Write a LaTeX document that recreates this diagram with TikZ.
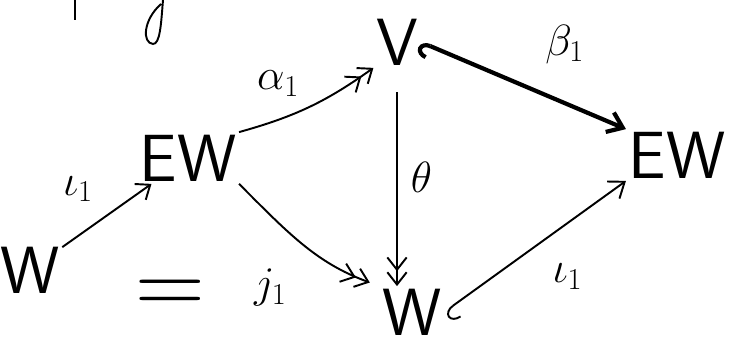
\documentclass[tikz,border=0pt]{standalone}
\usepackage{amsmath,amssymb}
\usepackage{tikz}
\usetikzlibrary{arrows.meta}

\begin{document}
\begin{tikzpicture}[x=0.02cm,y=-0.02cm,line width=1.1pt,
  obj/.style={font=\sffamily\fontsize{38}{38}\selectfont,inner sep=1pt},
  lbl/.style={font=\fontsize{24}{24}\selectfont},
  arr/.style={-{Straight Barb[length=7pt,width=11pt]}},
  epi/.style={-{Straight Barb[length=7pt,width=11pt]Straight Barb[length=7pt,width=11pt]}},
  mono/.style={{Hooks[left,length=6pt,width=16pt]}-{Straight Barb[length=8pt,width=12pt]}}]
\useasboundingbox (0,0) rectangle (733,350);
\node[obj] (W1) at (30,270) {W};
\node[obj] (EW1) at (188,158) {EW};
\node[obj] (V) at (397,42) {V};
\node[obj] (EW2) at (677,155) {EW};
\node[obj] (W2) at (412,312) {W};
\node[font=\fontsize{55}{55}\selectfont] (eq) at (170,297) {=};
\draw[arr] (W1) -- (EW1) node[lbl,midway,above left=4pt] {$\iota_1$};
\draw[epi] (EW1.north east) to[bend right=10] node[lbl,midway,above left=2pt] {$\alpha_1$} (V.south west);
\draw[mono,line width=2.4pt] (V.east) -- (EW2.north west) node[lbl,midway,above right=8pt] {$\beta_1$};
\draw[epi,shorten <=14pt] (V) -- (V |- W2.north) node[lbl,midway,right=4pt] {$\theta$};
\draw[epi,shorten >=6pt] (EW1.south east) to[out=-45,in=160] node[lbl,pos=0.7,xshift=-34pt,yshift=-14pt] {$j_1$} (W2.north west);
\draw[mono] (W2.east) -- (EW2.south west) node[lbl,midway,below right=6pt] {$\iota_1$};
\draw (75,0) -- (75,20);
\draw (163,0) .. controls (161,25) and (160,44) .. (153,44) .. controls (142,43) and (143,20) .. (161,4);
\end{tikzpicture}
\end{document}
